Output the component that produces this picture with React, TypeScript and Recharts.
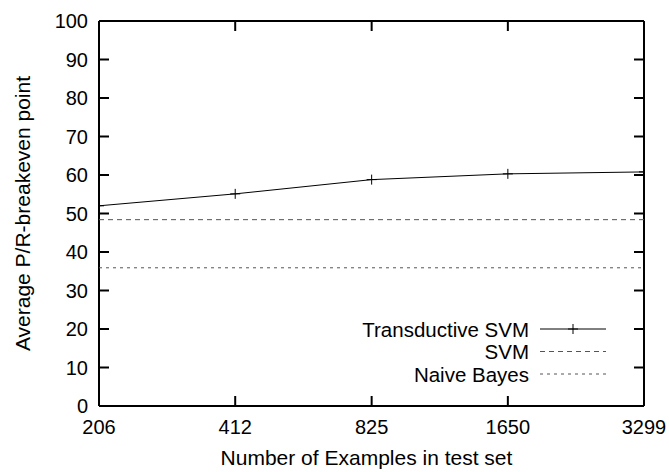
import { LineChart, Line, XAxis, YAxis, ReferenceLine, CartesianGrid } from 'recharts';

const testSetSizes = [206, 412, 825, 1650, 3299];
const transductiveSvm = [52.0, 55.1, 58.8, 60.3, 60.8];
const svmBaseline = 48.4;
const naiveBayesBaseline = 35.9;
const yTicks = [0, 10, 20, 30, 40, 50, 60, 70, 80, 90, 100];

const legendItems = [
  { name: 'Transductive SVM', dash: undefined, marker: true },
  { name: 'SVM', dash: '5 4', marker: false },
  { name: 'Naive Bayes', dash: '3 4', marker: false },
];

const data = testSetSizes.map((n, i) => ({ n, tsvm: transductiveSvm[i] }));

const font = '"Liberation Sans", Arial, Helvetica, sans-serif';
const txt = { fontSize: 20, fontFamily: font, fill: '#000' };
const titleTxt = { fontSize: 21, fontFamily: font, fill: '#000' };
const TICK = 10;
// plot box (gnuplot frame), used for the mirrored ticks on top / right
const PLOT_TOP = 21;
const PLOT_RIGHT = 644;

// gnuplot style: ticks point inward on all four sides, labels outside
function BottomTick(props: any) {
  const x = Number(props.x);
  const y = Number(props.y);
  return <g>
    <line x1={x} x2={x} y1={y} y2={y - TICK} stroke="#000" strokeWidth={2} />
    <line x1={x} x2={x} y1={PLOT_TOP} y2={PLOT_TOP + TICK} stroke="#000" strokeWidth={2} />
    <text x={x} y={y + 14} dy="0.71em" textAnchor="middle" style={txt}>{props.payload.value}</text>
  </g>;
}
function LeftTick(props: any) {
  const x = Number(props.x);
  const y = Number(props.y);
  return <g>
    <line x1={x} x2={x + TICK} y1={y} y2={y} stroke="#000" strokeWidth={2} />
    <line x1={PLOT_RIGHT} x2={PLOT_RIGHT - TICK} y1={y} y2={y} stroke="#000" strokeWidth={2} />
    <text x={x - 11} y={y} dy="0.36em" textAnchor="end" style={txt}>{props.payload.value}</text>
  </g>;
}

function Plus(props: any) {
  const { cx, cy } = props;
  if (cx == null || cy == null) return null;
  return <path key={`p-${cx}`} d={`M${cx - 5},${cy}H${cx + 5}M${cx},${cy - 5}V${cy + 5}`} stroke="#000" strokeWidth={1} />;
}

function YTitle(props: any) {
  const { viewBox } = props;
  const x = 22;
  const y = viewBox.y + viewBox.height / 2;
  return <text x={x} y={y} transform={`rotate(-90, ${x}, ${y})`} textAnchor="middle" dominantBaseline="central"
    style={titleTxt}>Average P/R-breakeven point</text>;
}

function KeyBox() {
  return <svg width={320} height={75} style={{ position: 'absolute', left: 300, top: 315 }}>
    {legendItems.map((it, i) => {
      const y = 14 + i * 22.5;
      return <g key={it.name}>
        <text x={229} y={y} textAnchor="end" dominantBaseline="central" style={{ ...txt, fontSize: 20.5 }}>{it.name}</text>
        <line x1={240} x2={306} y1={y} y2={y} stroke={it.marker ? '#000' : '#555'} strokeDasharray={it.dash} />
        {it.marker && <path d={`M${273 - 5},${y}H${273 + 5}M${273},${y - 5}V${y + 5}`} stroke="#000" />}
      </g>;
    })}
  </svg>;
}

export default function App() {
  return <div style={{ position: 'absolute', left: 0, top: 0, width: 669, height: 472, background: '#fff' }}>
    <LineChart width={669} height={472} data={data} margin={{ top: PLOT_TOP, right: 669 - PLOT_RIGHT, left: 0, bottom: 0 }}>
      <CartesianGrid stroke="#000" strokeWidth={2}
        horizontalCoordinatesGenerator={({ offset }: any) => [offset.top, offset.top + offset.height]}
        verticalCoordinatesGenerator={({ offset }: any) => [offset.left, offset.left + offset.width]} />
      <XAxis dataKey="n" type="number" scale="log" domain={[206, 3299]} ticks={testSetSizes}
        allowDataOverflow height={66} tickSize={0} tickMargin={0} tick={<BottomTick />} tickLine={false}
        axisLine={false} interval={0}
        label={{ value: 'Number of Examples in test set', position: 'insideBottom', offset: 7, dx: -5, style: titleTxt }} />
      <YAxis domain={[0, 100]} ticks={yTicks} width={99} tickSize={0} tickMargin={0} tick={<LeftTick />}
        tickLine={false} axisLine={false} interval={0} label={<YTitle />} />
      <ReferenceLine y={svmBaseline} stroke="#555" strokeDasharray="5 4" />
      <ReferenceLine y={naiveBayesBaseline} stroke="#555" strokeDasharray="3 4" />
      <Line dataKey="tsvm" stroke="#000" strokeWidth={1} dot={<Plus />} activeDot={false}
        isAnimationActive={false} />
    </LineChart>
    <KeyBox />
  </div>;
}
